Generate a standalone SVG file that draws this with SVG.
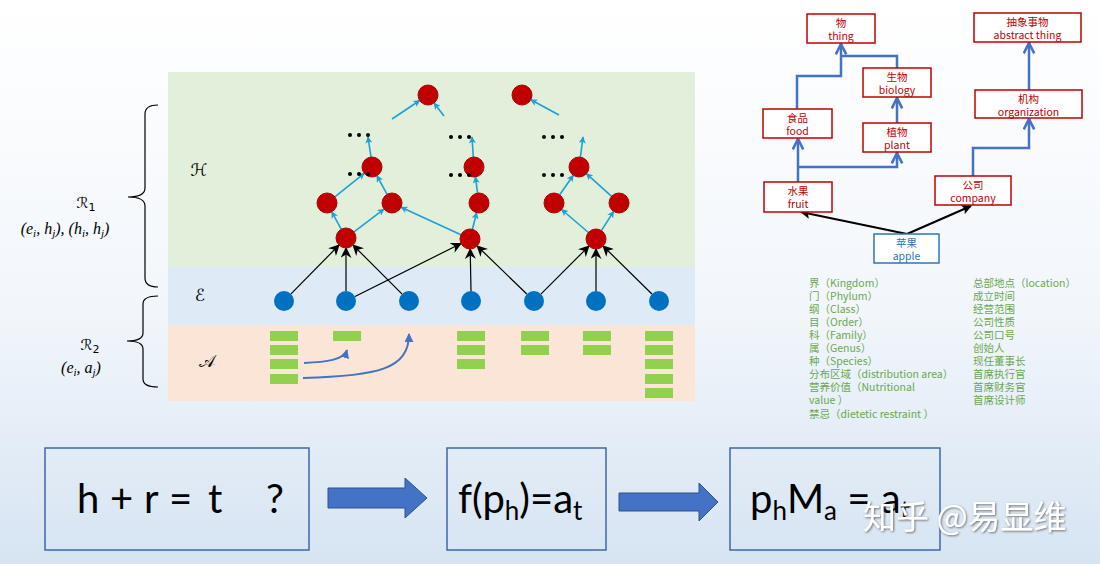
<svg xmlns="http://www.w3.org/2000/svg" width="1100" height="564" viewBox="0 0 1100 564">
<defs>
<linearGradient id="bg" x1="0" y1="0" x2="0" y2="1">
<stop offset="0" stop-color="#ffffff"/>
<stop offset="0.55" stop-color="#f2f6fb"/>
<stop offset="1" stop-color="#d6e4f2"/>
</linearGradient>
<marker id="cy" viewBox="0 0 10 10" refX="9" refY="5" markerWidth="7" markerHeight="7" orient="auto" markerUnits="userSpaceOnUse">
<path d="M0,0 L10,5 L0,10 L2.5,5 z" fill="#1E9FD6"/>
</marker>
<marker id="bk" viewBox="0 0 10 10" refX="9" refY="5" markerWidth="11" markerHeight="11" orient="auto" markerUnits="userSpaceOnUse">
<path d="M0,0 L10,5 L0,10 L3,5 z" fill="#000"/>
</marker>
<marker id="bl" viewBox="0 0 10 10" refX="9" refY="5" markerWidth="9" markerHeight="9" orient="auto" markerUnits="userSpaceOnUse">
<path d="M0,0 L10,5 L0,10 z" fill="#4472C4"/>
</marker>
<marker id="ch" viewBox="0 0 10 10" refX="9" refY="5" markerWidth="13" markerHeight="13" orient="auto" markerUnits="userSpaceOnUse">
<path d="M1,1 L9,5 L1,9" fill="none" stroke="#4472C4" stroke-width="2"/>
</marker>
<marker id="tb" viewBox="0 0 10 10" refX="9" refY="5" markerWidth="10" markerHeight="10" orient="auto" markerUnits="userSpaceOnUse">
<path d="M0,0 L10,5 L0,10 L2,5 z" fill="#000"/>
</marker>
<filter id="sh" x="-10%" y="-20%" width="120%" height="140%">
<feDropShadow dx="1" dy="1" stdDeviation="1" flood-color="#555" flood-opacity="0.8"/>
</filter>
</defs>
<style>
.rn{fill:#C00000;stroke:#B00000;stroke-width:1}
.bn{fill:#0070C0}
.bar{fill:#92D050}
.cya{stroke:#1E9FD6;stroke-width:1.6;fill:none;marker-end:url(#cy)}
.blk{stroke:#000;stroke-width:1.2;fill:none;marker-end:url(#bk)}
.dot{fill:#000}
.mth{font-family:"DejaVu Sans","Liberation Serif",serif;fill:#000}
.lbl{font-family:"Liberation Serif","DejaVu Serif",serif;font-style:italic;fill:#000;font-size:16px}
.tb{fill:#fff;stroke:#C00000;stroke-width:1.5}
.tt{font-family:"Noto Sans CJK SC","Noto Sans",sans-serif;font-size:10.5px;fill:#C00000;text-anchor:middle}
.tc{stroke:#4472C4;stroke-width:2.5;fill:none}
.lst{font-family:"Noto Sans CJK SC","Noto Sans",sans-serif;font-size:10.5px;fill:#6AA84F}
.bx{fill:none;stroke:#3F67A8;stroke-width:1.5}
.big{font-family:Lato,"Open Sans",sans-serif;font-size:40px;fill:#000}
.fat{fill:#4472C4;stroke:#2F528F;stroke-width:1}
</style>
<rect x="0" y="0" width="1100" height="564" fill="url(#bg)"/>

<g id="panel">
<rect x="168" y="72" width="527" height="195" fill="#E2EFDA"/>
<rect x="168" y="267" width="527" height="58" fill="#DEEBF7"/>
<rect x="168" y="325" width="527" height="76" fill="#FBE5D6"/>
<text class="mth" x="199" y="176" font-size="17" text-anchor="middle">ℋ</text>
<text class="mth" x="200" y="301" font-size="17" text-anchor="middle">ℰ</text>
<text class="mth" x="207" y="367" font-size="17" text-anchor="middle">𝒜</text>
</g>

<g id="braces" fill="none" stroke="#000" stroke-width="1.2">
<path d="M158,105 Q145,105 145,114 L145,188 Q145,197 128,197 Q145,197 145,206 L145,278 Q145,287 158,287"/>
<path d="M158,296 Q143,296 143,304 L143,333 Q143,341 127,341 Q143,341 143,349 L143,379 Q143,387 158,387"/>
</g>
<g id="rlabels">
<text class="mth" x="86" y="208" font-size="15" text-anchor="middle">ℛ<tspan font-size="11" dy="3">1</tspan></text>
<text class="lbl" x="65" y="234" text-anchor="middle">(e<tspan font-size="11" dy="3">i</tspan><tspan dy="-3">, h</tspan><tspan font-size="11" dy="3">j</tspan><tspan dy="-3">),  (h</tspan><tspan font-size="11" dy="3">i</tspan><tspan dy="-3">, h</tspan><tspan font-size="11" dy="3">j</tspan><tspan dy="-3">)</tspan></text>
<text class="mth" x="90" y="350" font-size="15" text-anchor="middle">ℛ<tspan font-size="11" dy="3">2</tspan></text>
<text class="lbl" x="81" y="373" text-anchor="middle">(e<tspan font-size="11" dy="3">i</tspan><tspan dy="-3">, a</tspan><tspan font-size="11" dy="3">j</tspan><tspan dy="-3">)</tspan></text>
</g>

<g id="connectors">
<path class="cya" d="M341.2,229.2 L331.8,211.8"/>
<path class="cya" d="M354,231.9 L384,209.1"/>
<path class="cya" d="M334.8,196.8 L364.2,173.3"/>
<path class="cya" d="M387.1,194.3 L376.9,175.7"/>
<path class="cya" d="M371,157 L368,137"/>
<path class="cya" d="M460.9,234.8 L401.1,207.2"/>
<path class="cya" d="M472.4,229.3 L476.6,212.7"/>
<path class="cya" d="M477.6,193.1 L475.4,176.9"/>
<path class="cya" d="M473.3,157 L472,137"/>
<path class="cya" d="M588.4,232.5 L561.6,209.5"/>
<path class="cya" d="M601.4,230.6 L613.6,211.4"/>
<path class="cya" d="M559.7,194.8 L573.3,175.2"/>
<path class="cya" d="M611.6,196.3 L586.4,173.7"/>
<path class="cya" d="M580.4,157 L583,137"/>
<path class="cya" d="M392,119 L419.7,100.5"/>
<path class="cya" d="M444,116 L434.1,103"/>
<path class="cya" d="M559,115 L530.8,99.8"/>
<path class="blk" d="M291,293.9 L339,245.1"/>
<path class="blk" d="M346,291 L346,248"/>
<path class="blk" d="M401.9,293.9 L353.1,245.1"/>
<path class="blk" d="M355,296.5 L461,243.5"/>
<path class="blk" d="M471,291 L470.2,249"/>
<path class="blk" d="M526.8,294 L477.2,246"/>
<path class="blk" d="M541.1,293.9 L588.9,246.1"/>
<path class="blk" d="M596,291 L596,249"/>
<path class="blk" d="M651.9,294 L603.1,246"/>
<path d="M304,363 C326,362 344,360 347,350" fill="none" stroke="#4472C4" stroke-width="2" marker-end="url(#bl)"/>
<path d="M303,378 C378,376 409,369 409,334" fill="none" stroke="#4472C4" stroke-width="2" marker-end="url(#bl)"/>
<path class="tc" d="M797,109 V76 H841 V44" marker-end="url(#ch)"/>
<path class="tc" d="M897,68 V56 H841"/>
<path class="tc" d="M897,123 V98" marker-end="url(#ch)"/>
<path class="tc" d="M798,182 V139" marker-end="url(#ch)"/>
<path class="tc" d="M798,167 H897 V153" marker-end="url(#ch)"/>
<path class="tc" d="M973,176 V148 H1029 V119" marker-end="url(#ch)"/>
<path class="tc" d="M1029,90 V43" marker-end="url(#ch)"/>
<path d="M907,234 L801,212" stroke="#000" stroke-width="2" fill="none" marker-end="url(#tb)"/>
<path d="M907,234 L971,206" stroke="#000" stroke-width="2" fill="none" marker-end="url(#tb)"/>
</g>

<g id="hnodes">
<circle class="rn" cx="428" cy="95" r="10"/>
<circle class="rn" cx="522" cy="95" r="10"/>
<circle class="rn" cx="372" cy="167" r="10"/>
<circle class="rn" cx="327" cy="203" r="10"/>
<circle class="rn" cx="392" cy="203" r="10"/>
<circle class="rn" cx="346" cy="238" r="10"/>
<circle class="rn" cx="474" cy="167" r="10"/>
<circle class="rn" cx="479" cy="203" r="10"/>
<circle class="rn" cx="470" cy="239" r="10"/>
<circle class="rn" cx="579" cy="167" r="10"/>
<circle class="rn" cx="554" cy="203" r="10"/>
<circle class="rn" cx="619" cy="203" r="10"/>
<circle class="rn" cx="596" cy="239" r="10"/>
</g>
<g id="dots">
<circle class="dot" cx="350" cy="135" r="2"/><circle class="dot" cx="359" cy="135" r="2"/><circle class="dot" cx="368" cy="135" r="2"/>
<circle class="dot" cx="350" cy="174" r="2"/><circle class="dot" cx="359" cy="174" r="2"/><circle class="dot" cx="368" cy="174" r="2"/>
<circle class="dot" cx="451" cy="137" r="2"/><circle class="dot" cx="460" cy="137" r="2"/><circle class="dot" cx="469" cy="137" r="2"/>
<circle class="dot" cx="451" cy="175" r="2"/><circle class="dot" cx="460" cy="175" r="2"/><circle class="dot" cx="469" cy="175" r="2"/>
<circle class="dot" cx="544" cy="137" r="2"/><circle class="dot" cx="553" cy="137" r="2"/><circle class="dot" cx="562" cy="137" r="2"/>
<circle class="dot" cx="544" cy="175" r="2"/><circle class="dot" cx="553" cy="175" r="2"/><circle class="dot" cx="562" cy="175" r="2"/>
</g>
<g id="enodes">
<circle class="bn" cx="284" cy="301" r="10"/>
<circle class="bn" cx="346" cy="301" r="10"/>
<circle class="bn" cx="409" cy="301" r="10"/>
<circle class="bn" cx="471" cy="301" r="10"/>
<circle class="bn" cx="534" cy="301" r="10"/>
<circle class="bn" cx="596" cy="301" r="10"/>
<circle class="bn" cx="659" cy="301" r="10"/>
</g>
<g id="attrs">
<rect class="bar" x="270" y="331" width="28" height="10"/>
<rect class="bar" x="270" y="345" width="28" height="10"/>
<rect class="bar" x="270" y="359" width="28" height="10"/>
<rect class="bar" x="270" y="374" width="28" height="10"/>
<rect class="bar" x="333" y="331" width="28" height="10"/>
<rect class="bar" x="457" y="331" width="28" height="10"/>
<rect class="bar" x="457" y="345" width="28" height="10"/>
<rect class="bar" x="457" y="359" width="28" height="10"/>
<rect class="bar" x="521" y="331" width="28" height="10"/>
<rect class="bar" x="521" y="345" width="28" height="10"/>
<rect class="bar" x="583" y="331" width="28" height="10"/>
<rect class="bar" x="583" y="345" width="28" height="10"/>
<rect class="bar" x="645" y="331" width="28" height="10"/>
<rect class="bar" x="645" y="345" width="28" height="10"/>
<rect class="bar" x="645" y="359" width="28" height="10"/>
<rect class="bar" x="645" y="374" width="28" height="10"/>
<rect class="bar" x="645" y="388" width="28" height="10"/>
</g>

<g id="n-thing"><rect class="tb" x="807" y="14" width="68" height="29"/><text class="tt" x="841" y="27">物</text><text class="tt" x="841" y="40">thing</text></g>
<g id="n-biology"><rect class="tb" x="863" y="68" width="68" height="29"/><text class="tt" x="897" y="81">生物</text><text class="tt" x="897" y="94">biology</text></g>
<g id="n-food"><rect class="tb" x="763" y="109" width="69" height="29"/><text class="tt" x="797.5" y="122">食品</text><text class="tt" x="797.5" y="135">food</text></g>
<g id="n-plant"><rect class="tb" x="863" y="123" width="68" height="29"/><text class="tt" x="897" y="136">植物</text><text class="tt" x="897" y="149">plant</text></g>
<g id="n-abstract"><rect class="tb" x="974" y="13" width="107" height="29"/><text class="tt" x="1027.5" y="26">抽象事物</text><text class="tt" x="1027.5" y="39">abstract thing</text></g>
<g id="n-org"><rect class="tb" x="975" y="90" width="107" height="28"/><text class="tt" x="1028.5" y="103">机构</text><text class="tt" x="1028.5" y="116">organization</text></g>
<g id="n-fruit"><rect class="tb" x="764" y="182" width="68" height="30"/><text class="tt" x="798" y="195">水果</text><text class="tt" x="798" y="208">fruit</text></g>
<g id="n-company"><rect class="tb" x="935" y="176" width="76" height="29"/><text class="tt" x="973" y="189">公司</text><text class="tt" x="973" y="202">company</text></g>
<g id="n-apple"><rect x="874" y="234" width="65" height="29" fill="#fff" stroke="#2E75B6" stroke-width="1.5"/><text class="tt" x="906.5" y="247" style="fill:#2E75B6">苹果</text><text class="tt" x="906.5" y="260" style="fill:#2E75B6">apple</text></g>

<g id="list-fruit" class="lst">
<text x="809" y="287">界（Kingdom）</text>
<text x="809" y="300">门（Phylum）</text>
<text x="809" y="313">纲（Class）</text>
<text x="809" y="326">目（Order）</text>
<text x="809" y="339">科（Family）</text>
<text x="809" y="352">属（Genus）</text>
<text x="809" y="365">种（Species）</text>
<text x="809" y="378">分布区域（distribution area）</text>
<text x="809" y="391">营养价值（Nutritional</text>
<text x="809" y="404">value ）</text>
<text x="809" y="418">禁忌（dietetic restraint ）</text>
</g>
<g id="list-company" class="lst">
<text x="973" y="287">总部地点（location）</text>
<text x="973" y="300">成立时间</text>
<text x="973" y="313">经营范围</text>
<text x="973" y="326">公司性质</text>
<text x="973" y="339">公司口号</text>
<text x="973" y="352">创始人</text>
<text x="973" y="365">现任董事长</text>
<text x="973" y="378">首席执行官</text>
<text x="973" y="391">首席财务官</text>
<text x="973" y="404">首席设计师</text>
</g>

<g id="box1"><rect class="bx" x="45" y="448" width="264" height="102"/>
<text class="big" y="513"><tspan x="77">h</tspan><tspan x="110">+</tspan><tspan x="144">r</tspan><tspan x="169">=</tspan><tspan x="208">t</tspan><tspan x="266">?</tspan></text></g>
<g id="arrow1"><path class="fat" d="M328,488 H405 V478 L427,498 L405,518 V508 H328 Z"/></g>
<g id="box2"><rect class="bx" x="447" y="448" width="159" height="102"/>
<text class="big" x="458" y="513">f(p<tspan font-size="26" dy="7">h</tspan><tspan dy="-7">)=a</tspan><tspan font-size="26" dy="7">t</tspan></text></g>
<g id="arrow2"><path class="fat" d="M619,493 H699 V483 L718,502 L699,521 V511 H619 Z"/></g>
<g id="box3"><rect class="bx" x="730" y="448" width="210" height="102"/>
<text class="big" x="750" y="513" xml:space="preserve">p<tspan font-size="26" dy="7">h</tspan><tspan dy="-7">M</tspan><tspan font-size="26" dy="7">a</tspan><tspan dy="-7"> = a</tspan><tspan font-size="26" dy="7">t</tspan></text></g>
<g id="watermark"><text x="863" y="529" font-family="Noto Sans CJK SC,sans-serif" font-size="33" fill="#ffffff" filter="url(#sh)">知乎 @易显维</text></g>
</svg>
